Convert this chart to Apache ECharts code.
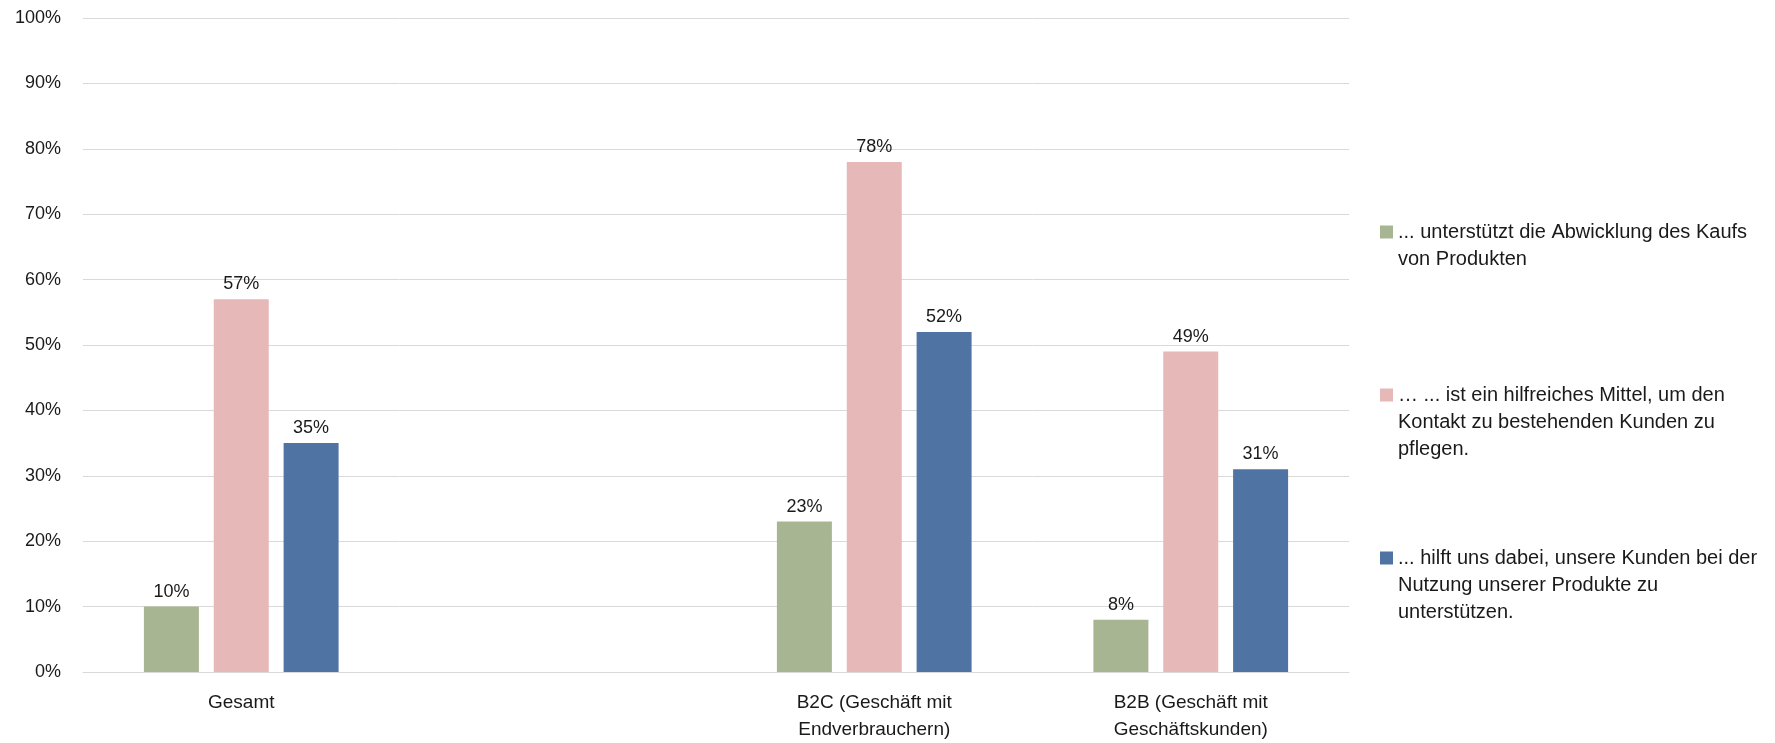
<!DOCTYPE html>
<html>
<head>
<meta charset="utf-8">
<script src="https://cdn.jsdelivr.net/npm/echarts@6/dist/echarts.min.js"></script>
<style>
html,body{margin:0;padding:0;background:#fff;}
#chart{width:1775px;height:743px;}
</style>
</head>
<body>
<div id="chart"></div>
<script>
const categories = ['Gesamt', '', 'B2C (Geschäft mit\nEndverbrauchern)', 'B2B (Geschäft mit\nGeschäftskunden)'];
const seriesNames = [
  '... unterstützt die Abwicklung des Kaufs von Produkten',
  '… ... ist ein hilfreiches Mittel, um den Kontakt zu bestehenden Kunden zu pflegen.',
  '... hilft uns dabei, unsere Kunden bei der Nutzung unserer Produkte zu unterstützen.'
];
const legendLines = [
  ['... unterstützt die Abwicklung des Kaufs', 'von Produkten'],
  ['… ... ist ein hilfreiches Mittel, um den', 'Kontakt zu bestehenden Kunden zu', 'pflegen.'],
  ['... hilft uns dabei, unsere Kunden bei der', 'Nutzung unserer Produkte zu', 'unterstützen.']
];
const valuesKauf = [10, null, 23, 8];
const valuesKontakt = [57, null, 78, 49];
const valuesNutzung = [35, null, 52, 31];
const yTicks = [0, 10, 20, 30, 40, 50, 60, 70, 80, 90, 100];

const colors = ['#A7B592', '#E6B8B8', '#4F74A3'];
const FONT = 'Liberation Sans';
const LH = 27;
const iconCenters = [232, 395, 558];

const chart = echarts.init(document.getElementById('chart'));
const seriesData = [valuesKauf, valuesKontakt, valuesNutzung];

const legends = seriesNames.map((name, i) => {
  const n = legendLines[i].length;
  const block = (2 * n - 1) * LH;
  return {
    orient: 'vertical',
    left: 1380,
    top: iconCenters[i] - block / 2,
    padding: 0,
    itemWidth: 13,
    itemHeight: 13,
    itemGap: 6,
    icon: 'rect',
    selectedMode: false,
    data: [name],
    formatter: function () {
      const pad = new Array(n - 1).fill('');
      return pad.concat(legendLines[i]).join('\n');
    },
    textStyle: {fontFamily: FONT, fontSize: 20, color: '#1a1a1a', lineHeight: LH}
  };
});

chart.setOption({
  animation: false,
  backgroundColor: '#fff',
  color: colors,
  grid: {left: 83, right: 426, top: 18, bottom: 67, containLabel: false},
  legend: legends,
  xAxis: {
    type: 'category',
    data: categories,
    axisLine: {show: true, lineStyle: {color: '#d9d9d9', width: 1}},
    axisTick: {show: false},
    axisLabel: {fontFamily: FONT, fontSize: 19, color: '#1a1a1a', lineHeight: 27, margin: 17, interval: 0}
  },
  yAxis: {
    type: 'value',
    min: 0,
    max: 100,
    interval: 10,
    axisLine: {show: false},
    axisTick: {show: false},
    splitLine: {lineStyle: {color: '#d9d9d9', width: 1}},
    axisLabel: {
      fontFamily: FONT, fontSize: 18, color: '#1a1a1a', margin: 22,
      formatter: v => (yTicks.indexOf(v) >= 0 ? v + '%' : '')
    }
  },
  series: seriesNames.map((name, i) => ({
    name: name,
    type: 'bar',
    data: seriesData[i],
    barWidth: 55,
    barGap: '27%',
    itemStyle: {color: colors[i]},
    label: {
      show: true, position: 'top', distance: 6,
      fontFamily: FONT, fontSize: 18, color: '#1a1a1a',
      formatter: p => p.value + '%'
    }
  }))
});
</script>
</body>
</html>
